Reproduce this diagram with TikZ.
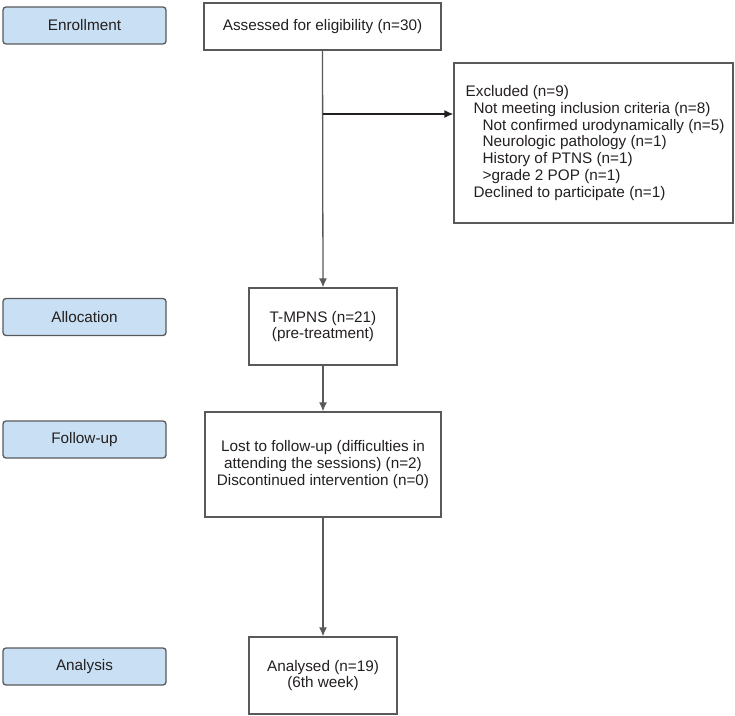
\documentclass[tikz,border=0pt]{standalone}
\usepackage{fontspec}
\setmainfont{Liberation Sans}
\usepackage{tikz}
\usetikzlibrary{arrows.meta}
\definecolor{stagefill}{HTML}{C9DFF3}
\definecolor{framegray}{HTML}{58595B}
\definecolor{inkdark}{HTML}{231F20}

\begin{document}
\begin{tikzpicture}[x=1pt,y=-1pt,font=\fontsize{15.3}{16.8}\selectfont,text=inkdark,line width=1.3pt,
stage/.style={draw=framegray,fill=stagefill,rounded corners=3pt,minimum width=163pt,minimum height=37pt,inner sep=0pt},
box/.style={draw=framegray,rectangle,inner sep=0pt,align=center},
flow/.style={draw=inkdark,-{Latex[length=9pt,width=8pt]}}]
\useasboundingbox (0,0) rectangle (735,715);
% stage labels on the left
\node[stage] (enrol) at (84.5,25.5) {Enrollment};
\node[stage] (alloc) at (84.5,317) {Allocation};
\node[stage] (follow) at (84.5,439.5) {Follow-up};
\node[stage] (analysis) at (84.5,666.5) {Analysis};
% main boxes
\node[box,minimum width=237pt,minimum height=47pt] (assess) at (322.5,26.5) {Assessed for eligibility (n=30)};
\node[box,minimum width=279pt,minimum height=160pt] (excl) at (593.5,143) {};
\node[align=left,inner sep=0pt,anchor=west] (excltxt) at (465,143) {%
Excluded (n=9)\\
\hspace*{8pt}Not meeting inclusion criteria (n=8)\\
\hspace*{17pt}Not confirmed urodynamically (n=5)\\
\hspace*{17pt}Neurologic pathology (n=1)\\
\hspace*{17pt}History of PTNS (n=1)\\
\hspace*{17pt}>grade 2 POP (n=1)\\
\hspace*{8pt}Declined to participate (n=1)};
\node[box,minimum width=148pt,minimum height=77pt] (tmpns) at (323,326.5) {T-MPNS (n=21)\\(pre-treatment)};
\node[box,minimum width=236pt,minimum height=105pt] (lost) at (323,464.5) {Lost to follow-up (difficulties in\\attending the sessions) (n=2)\\Discontinued intervention (n=0)};
\node[box,minimum width=148pt,minimum height=77pt] (analysed) at (323,675.5) {Analysed (n=19)\\(6th week)};
% connectors
\coordinate (branch) at (assess.south |- 0,114);
\draw[flow,draw=framegray] (assess.south) -- (tmpns.north);
\draw[flow] (branch) -- (branch -| excl.west);
\draw[flow,draw=framegray] (tmpns.south) -- (lost.north);
\draw[flow,draw=framegray] (lost.south) -- (analysed.north);
\end{tikzpicture}
\end{document}
